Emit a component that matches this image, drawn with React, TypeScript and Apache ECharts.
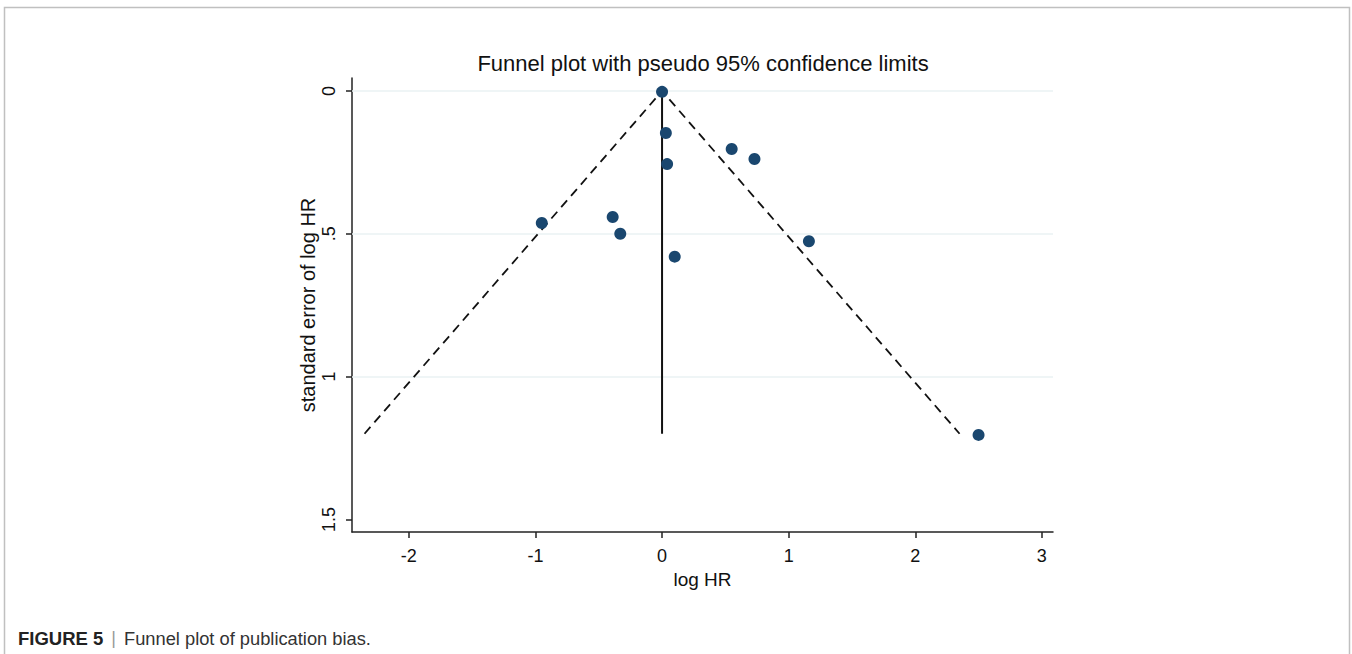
import React, { useEffect, useRef } from "react";
import * as echarts from "echarts";

// Study estimates (log HR) and their standard errors
const logHR = [0.0, 0.03, 0.04, 0.55, 0.73, -0.95, -0.39, -0.33, 0.1, 1.16, 2.5];
const seLogHR = [0.003, 0.147, 0.256, 0.203, 0.238, 0.462, 0.441, 0.5, 0.58, 0.526, 1.204];

// Pseudo 95% confidence limits (funnel) and pooled estimate line
const funnelX = [-2.35, 0, 2.35];
const funnelY = [1.2, 0, 1.2];
const pooledX = [0, 0];
const pooledY = [0, 1.2];

// Tick labels
const xTicks = [-2, -1, 0, 1, 2, 3];
const yTicks = [0, 0.5, 1, 1.5];
const yTickText = ["0", ".5", "1", "1.5"];
const gridLinesY = [0, 0.5, 1];

const FONT = "'Liberation Sans', Arial, sans-serif";

export default function App() {
  const ref = useRef<HTMLDivElement>(null);
  useEffect(() => {
    if (!ref.current) return;
    const chart = echarts.init(ref.current, null, { renderer: "svg" });
    const points = logHR.map((x, i) => [x, seLogHR[i]]);
    const funnel = funnelX.map((x, i) => [x, funnelY[i]]);
    const pooled = pooledX.map((x, i) => [x, pooledY[i]]);
    chart.setOption({
      animation: false,
      backgroundColor: "#ffffff",
      title: {
        text: "Funnel plot with pseudo 95% confidence limits",
        left: 698,
        top: 47,
        textAlign: "center",
        textStyle: { fontFamily: FONT, fontSize: 22, fontWeight: "normal", color: "#111" },
      },
      grid: { left: 352, top: 78, width: 701, height: 454, containLabel: false },
      xAxis: {
        type: "value",
        min: -2.449,
        max: 3.088,
        axisLine: { show: true, onZero: false, lineStyle: { color: "#222", width: 1.5 } },
        axisTick: { show: true, length: 6, customValues: xTicks, lineStyle: { color: "#222", width: 1.5 } },
        axisLabel: {
          customValues: xTicks,
          fontFamily: FONT,
          fontSize: 18,
          color: "#111",
          margin: 15,
          formatter: (v: number) => String(v),
        },
        splitLine: { show: false },
        name: "log HR",
        nameLocation: "middle",
        nameGap: 37,
        nameTextStyle: { fontFamily: FONT, fontSize: 19, color: "#111" },
      },
      yAxis: {
        type: "value",
        inverse: true,
        min: -0.0455,
        max: 1.544,
        axisLine: { show: true, onZero: false, lineStyle: { color: "#222", width: 1.5 } },
        axisTick: { show: true, length: 6, customValues: yTicks, lineStyle: { color: "#222", width: 1.5 } },
        axisLabel: {
          customValues: yTicks,
          rotate: 90,
          fontFamily: FONT,
          fontSize: 18,
          color: "#111",
          margin: 14,
          formatter: (v: number) => {
            const i = yTicks.findIndex((t) => Math.abs(t - v) < 1e-9);
            return i >= 0 ? yTickText[i] : "";
          },
        },
        splitLine: { show: false },
      },
      graphic: [
        {
          type: "rect",
          shape: { x: 4.5, y: 7.5, width: 1345, height: 700 },
          style: { fill: "none", stroke: "#c0c0c0", lineWidth: 1.5 },
          silent: true,
        },
        {
          type: "text",
          x: 308,
          y: 305,
          rotation: Math.PI / 2,
          style: {
            text: "standard error of log HR",
            fontFamily: FONT,
            fontSize: 20,
            fill: "#111",
            textAlign: "center",
            textVerticalAlign: "middle",
          },
        },
        {
          type: "text",
          x: 18,
          y: 638,
          style: {
            text: "{b|FIGURE 5}{s||}{n|Funnel plot of publication bias.}",
            textVerticalAlign: "middle",
            rich: {
              b: { fontFamily: FONT, fontSize: 18.5, fontWeight: "bold", fill: "#222" },
              s: { fontFamily: FONT, fontSize: 18, fill: "#999", padding: [0, 8, 0, 8] },
              n: { fontFamily: FONT, fontSize: 18.3, fill: "#333" },
            },
          },
        },
      ],
      series: [
        {
          type: "line",
          data: funnel,
          symbol: "none",
          lineStyle: { color: "#111", width: 1.8, type: [9, 6] },
          z: 2,
          markLine: {
            silent: true,
            symbol: "none",
            label: { show: false },
            lineStyle: { color: "#eaf2f3", width: 1.5, type: "solid" },
            data: gridLinesY.map((y) => ({ yAxis: y })),
            z: 1,
          },
        },
        {
          type: "line",
          data: pooled,
          symbol: "none",
          lineStyle: { color: "#111", width: 2, type: "solid" },
          z: 2,
        },
        {
          type: "scatter",
          data: points,
          symbol: "circle",
          symbolSize: 12,
          itemStyle: { color: "#1a476f", opacity: 1 },
          z: 3,
        },
      ],
    });
    return () => chart.dispose();
  }, []);
  return (
    <div
      ref={ref}
      style={{ position: "fixed", left: 0, top: 0, width: 1352, height: 654, background: "#fff" }}
    />
  );
}
